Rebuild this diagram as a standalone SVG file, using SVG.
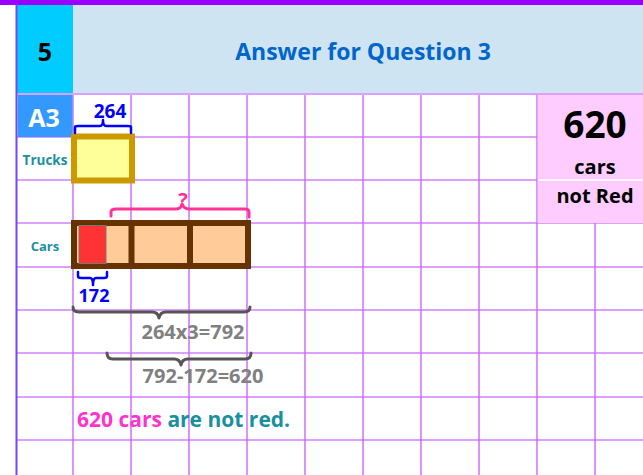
<svg xmlns="http://www.w3.org/2000/svg" width="643" height="475" viewBox="0 0 643 475">
<style>
text{font-family:"Open Sans","Noto Sans","Liberation Sans",sans-serif;font-weight:bold}
.vl{stroke:#CC66FF;stroke-width:1.4}
.hl{stroke:#DDA0FF;stroke-width:2}
.grey{fill:#808080;font-size:20px}
.brace{fill:none;stroke-linecap:round;stroke-linejoin:round}
</style>
<rect width="643" height="475" fill="#ffffff"/>
<g id="grid">
<line class="hl" x1="16" y1="137" x2="537" y2="137"/>
<line class="hl" x1="16" y1="180" x2="537" y2="180"/>
<line class="hl" x1="16" y1="223" x2="643" y2="223"/>
<line class="hl" x1="16" y1="267" x2="643" y2="267"/>
<line class="hl" x1="16" y1="310" x2="643" y2="310"/>
<line class="hl" x1="16" y1="353" x2="643" y2="353"/>
<line class="hl" x1="16" y1="397" x2="643" y2="397"/>
<line class="hl" x1="16" y1="440" x2="643" y2="440"/>
<line class="vl" x1="73" y1="94" x2="73" y2="475"/>
<line class="vl" x1="131" y1="94" x2="131" y2="475"/>
<line class="vl" x1="189" y1="94" x2="189" y2="475"/>
<line class="vl" x1="247" y1="94" x2="247" y2="475"/>
<line class="vl" x1="305" y1="94" x2="305" y2="475"/>
<line class="vl" x1="363" y1="94" x2="363" y2="475"/>
<line class="vl" x1="421" y1="94" x2="421" y2="475"/>
<line class="vl" x1="479" y1="94" x2="479" y2="475"/>
<line class="vl" x1="537" y1="94" x2="537" y2="475"/>
<line class="vl" x1="595" y1="223" x2="595" y2="475"/>
</g>
<g id="header">
<rect x="0" y="0" width="643" height="5" fill="#9900FF"/>
<rect x="16" y="5" width="57" height="89" fill="#00CCFF"/>
<rect x="73" y="5" width="570" height="89" fill="#CFE4F3"/>
<line x1="16" y1="94" x2="643" y2="94" stroke="#DDA0FF" stroke-width="2"/>
<line x1="16.5" y1="5" x2="16.5" y2="475" stroke="#7744FF" stroke-width="2"/>
<text x="45" y="61" font-size="25" fill="#000" text-anchor="middle">5</text>
<text x="363" y="60" font-size="23" fill="#0066CC" text-anchor="middle">Answer for Question 3</text>
</g>
<g id="a3">
<rect x="17.5" y="95" width="55" height="42" fill="#3399FF"/>
<text x="44" y="127" font-size="25" fill="#ffffff" text-anchor="middle">A3</text>
</g>
<g id="labels">
<text x="45" y="165" font-size="13.5" fill="#1A8FA0" text-anchor="middle">Trucks</text>
<text x="45" y="251" font-size="13" fill="#1A8FA0" text-anchor="middle">Cars</text>
</g>
<g id="answer-box">
<rect x="537.7" y="95" width="105.3" height="128" fill="#FFCCFF"/>
<line x1="538" y1="180" x2="643" y2="180" stroke="#ffffff" stroke-width="1.5"/>
<text x="595" y="138" font-size="37" fill="#000" text-anchor="middle">620</text>
<text x="595" y="174" font-size="20" fill="#000" text-anchor="middle">cars</text>
<text x="595" y="203" font-size="20" fill="#000" text-anchor="middle">not Red</text>
</g>
<g id="trucks">
<rect x="74" y="136.5" width="58" height="44" fill="#FFFF99" stroke="#CC9900" stroke-width="6"/>
<path class="brace" d="M75,133 L75,127 Q75,126 78,126 L100,126 Q103,126 103,120 Q103,126 106,126 L128,126 Q131,126 131,127 L131,133" stroke="#0000FF" stroke-width="2.5"/>
<text x="110" y="118" font-size="19" fill="#0000FF" text-anchor="middle">264</text>
</g>
<g id="cars">
<rect x="74" y="223" width="174" height="43" fill="#FFCC99" stroke="#663300" stroke-width="6"/>
<line x1="131.5" y1="223" x2="131.5" y2="266" stroke="#663300" stroke-width="6"/>
<line x1="190" y1="223" x2="190" y2="266" stroke="#663300" stroke-width="6"/>
<rect x="79" y="225.5" width="27" height="38" fill="#FF3333" stroke="#777777" stroke-width="1"/>
</g>
<g id="connectors">
<path class="brace" d="M111,216 L111,212 Q111,209 116,209 L176,209 Q181,209 182,204 Q184,209 189,209 L245,209 Q249,209 249,212 L249,217" stroke="#FF3399" stroke-width="3"/>
<text x="183" y="207" font-size="20" fill="#FF3399" text-anchor="middle">?</text>
<path class="brace" d="M78,272 L78,276 Q78,278 81,278 L90,278 Q93,278 93,285 Q93,278 96,278 L104,278 Q107,278 107,276 L107,272" stroke="#0000FF" stroke-width="2.5"/>
<text x="94" y="302" font-size="18" fill="#0000FF" text-anchor="middle">172</text>
<path class="brace" d="M73,307 Q73,312 79,312 L152,312 Q158,312 159,318 Q160,312 166,312 L244,312 Q250,312 250,307" stroke="#555555" stroke-width="3"/>
<text class="grey" x="193" y="339" text-anchor="middle">264x3=792</text>
<path class="brace" d="M107,353 Q107,359 113,359 L174,359 Q180,359 181,365 Q182,359 188,359 L245,359 Q251,359 251,353" stroke="#555555" stroke-width="3"/>
<text class="grey" x="203" y="383" text-anchor="middle">792-172=620</text>
</g>
<g id="conclusion">
<text x="77" y="427" font-size="21"><tspan fill="#FF33CC">620 cars</tspan><tspan fill="#1A8FA0"> are not red.</tspan></text>
</g>
</svg>
